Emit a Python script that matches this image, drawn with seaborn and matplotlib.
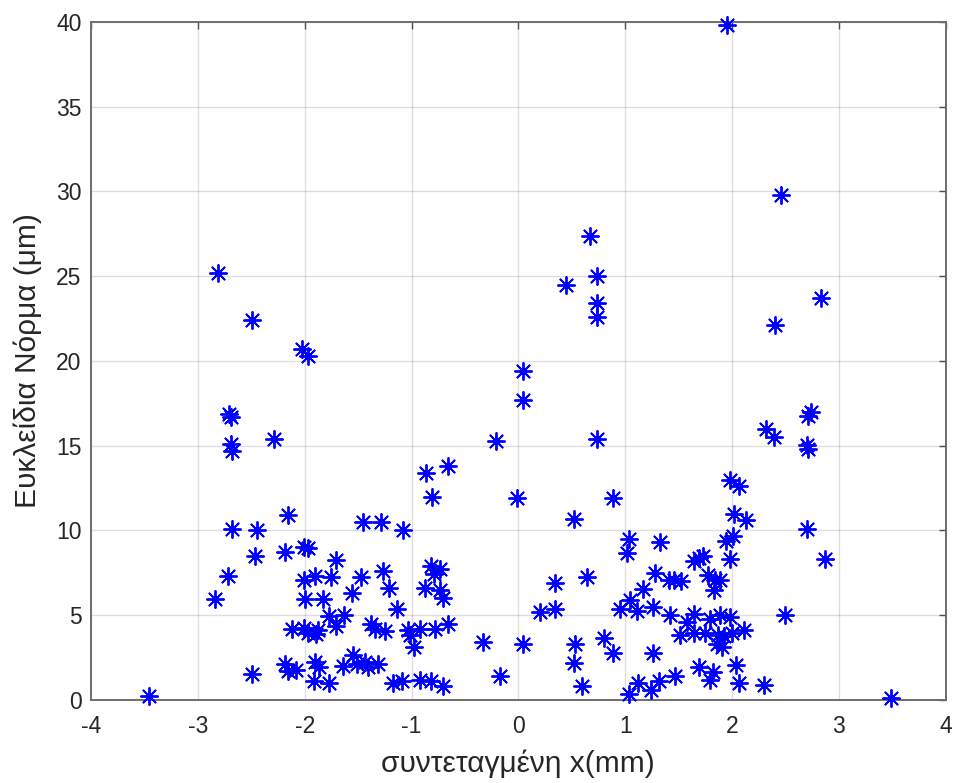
import matplotlib
matplotlib.use("Agg")
import matplotlib.pyplot as plt
import seaborn as sns
import pandas as pd

# Horizontal coordinate of each measurement point (mm)
x_mm = [
    -2.81, -2.49, -2.03, -1.97, -2.71, -2.69, -2.69, -2.68, -2.29, -0.86,
    -0.66, -0.81, -2.16, -2.68, -2.45, -1.45, -1.29, -1.08, -2.47, -2.18,
    -2.01, -1.97, -2.72, -2.84, -1.71, -2.01, -1.90, -1.75, -1.47, -1.27,
    -1.21, -1.56, -2.00, -1.83, -1.77, -1.63, -1.14, -0.82, -0.73, -0.79,
    -0.87, -0.73, -0.71, -0.66, -2.12, -2.01, -1.97, -1.88, -1.89, -1.71,
    -1.38, -1.34, -1.25, -1.03, -1.01, -0.98, -0.92, -0.78, -2.49, -2.18,
    -2.16, -2.08, -1.90, -1.87, -1.91, -1.77, -1.64, -1.55, -1.51, -1.44,
    -1.41, -1.31, -1.17, -1.09, -0.92, -0.82, -0.71, -3.46,
    0.67, 0.74, 0.45, 0.74, 0.74, 0.04, 0.04, -0.21, 0.74, -0.01,
    0.89, 0.52, 1.04, 1.02, 1.33, 0.34, 0.64, 0.20, 0.34, 0.95,
    1.05, 1.11, 1.17, 1.28, 1.26, 1.41, 1.46, 1.52, 1.42, 1.51,
    -0.33, 0.04, 0.53, 0.52, 0.80, 0.89, 1.26, -0.17, 0.60, 1.04,
    1.12, 1.24, 1.32, 1.47,
    2.74, 2.71, 2.32, 2.39, 2.70, 2.71, 1.98, 2.07, 2.02, 2.13,
    2.70, 1.94, 2.01, 1.98, 1.64, 1.69, 1.73, 1.78, 1.84, 1.89,
    1.83, 1.64, 1.58, 1.79, 1.89, 1.98, 1.64, 1.75, 1.87, 1.93,
    2.00, 2.11, 1.86, 1.91, 2.50, 1.69, 1.82, 1.79, 2.04, 2.07,
    2.30, 1.95, 2.46, 2.83, 2.40, 2.87, 3.49,
]

# Euclidean norm of the displacement at each point (um)
norm_um = [
    25.2, 22.4, 20.7, 20.3, 16.9, 16.7, 15.1, 14.7, 15.4, 13.4,
    13.8, 12.0, 10.9, 10.1, 10.0, 10.5, 10.5, 10.0, 8.5, 8.75,
    9.0, 8.95, 7.3, 5.95, 8.25, 7.1, 7.3, 7.25, 7.25, 7.6,
    6.6, 6.3, 5.95, 5.95, 4.95, 5.0, 5.35, 7.9, 7.7, 7.45,
    6.6, 6.5, 6.0, 4.5, 4.2, 4.25, 3.95, 4.15, 3.9, 4.35,
    4.5, 4.2, 4.05, 4.15, 3.85, 3.15, 4.2, 4.2, 1.55, 2.1,
    1.7, 1.75, 2.25, 1.95, 1.1, 1.0, 2.0, 2.65, 2.15, 2.25,
    1.95, 2.15, 1.0, 1.1, 1.2, 1.1, 0.8, 0.25,
    27.4, 25.0, 24.5, 23.4, 22.6, 19.4, 17.7, 15.3, 15.4, 11.9,
    11.9, 10.7, 9.5, 8.65, 9.35, 6.9, 7.25, 5.2, 5.35, 5.35,
    5.9, 5.25, 6.55, 7.5, 5.5, 7.1, 7.05, 7.0, 5.0, 3.85,
    3.4, 3.3, 3.3, 2.2, 3.65, 2.8, 2.8, 1.4, 0.8, 0.35,
    1.0, 0.6, 1.1, 1.4,
    17.0, 16.75, 16.0, 15.5, 15.05, 14.8, 13.0, 12.6, 11.0, 10.6,
    10.1, 9.4, 9.65, 8.3, 8.2, 8.4, 8.5, 7.35, 7.1, 7.05,
    6.5, 5.05, 4.6, 4.75, 5.0, 4.9, 3.95, 3.95, 3.85, 3.75,
    3.95, 4.1, 3.3, 3.15, 5.0, 1.95, 1.65, 1.2, 2.05, 1.0,
    0.9, 39.8, 29.8, 23.7, 22.1, 8.3, 0.1,
]

x_ticks = [-4, -3, -2, -1, 0, 1, 2, 3, 4]
y_ticks = [0, 5, 10, 15, 20, 25, 30, 35, 40]

df = pd.DataFrame({"x": x_mm, "norm": norm_um})

sns.set_theme(style="white")
plt.rcParams["font.family"] = ["Liberation Sans", "DejaVu Sans"]

text_col = "#262626"
fig = plt.figure(figsize=(9.59, 7.83), dpi=100)
ax = fig.add_axes([0.095, 0.106, 0.891, 0.866])

sns.scatterplot(
    data=df, x="x", y="norm", ax=ax,
    marker=(8, 2, 0), s=150, color="#0000ff", linewidth=1.35,
    zorder=3, clip_on=False,
)

ax.set_xlim(-4, 4)
ax.set_ylim(0, 40)
ax.set_xticks(x_ticks)
ax.set_yticks(y_ticks)
ax.set_xticklabels([str(t) for t in x_ticks])
ax.set_yticklabels([str(t) for t in y_ticks])

ax.grid(True, color="#000000", alpha=0.13, linewidth=1.0)
ax.set_axisbelow(True)
for side in ["left", "right", "top", "bottom"]:
    ax.spines[side].set_visible(True)
    ax.spines[side].set_color("#6e6e6e")
    ax.spines[side].set_linewidth(1.4)

ax.tick_params(axis="both", which="major", direction="in", length=5,
               width=1.0, color="#4d4d4d", labelsize=16.5,
               labelcolor=text_col, top=True, right=True, pad=7)
ax.tick_params(axis="x", pad=11)

ax.set_xlabel("συντεταγμένη x(mm)", fontsize=21.5, color=text_col, labelpad=8)
ax.set_ylabel("Ευκλείδια Νόρμα (μm)", fontsize=21.5, color=text_col, labelpad=10)

fig.savefig("out.png", dpi=100, facecolor="white")
